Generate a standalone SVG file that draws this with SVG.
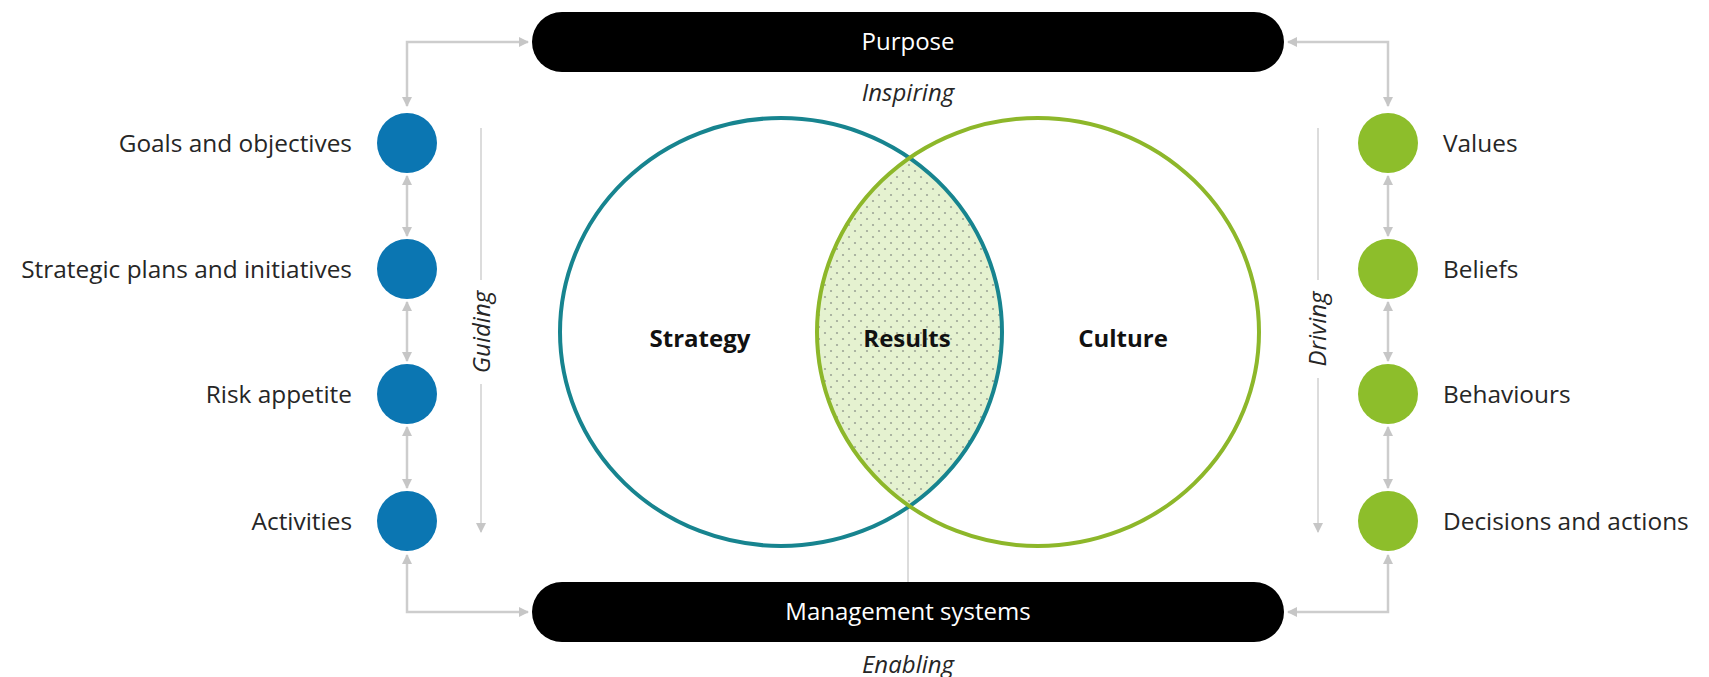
<svg xmlns="http://www.w3.org/2000/svg" width="1709" height="677" viewBox="0 0 1709 677">
<defs>
<style>
.lbl{font-family:"Open Sans","Liberation Sans",sans-serif;font-size:24.4px;fill:#262626}
.bar{fill:#000}
.bartxt{font-family:"Open Sans","Liberation Sans",sans-serif;font-size:24px;fill:#fff;text-anchor:middle}
.ital{font-family:"Open Sans","Liberation Sans",sans-serif;font-size:24px;font-style:italic;fill:#262626;text-anchor:middle}
.bold{font-family:"Open Sans","Liberation Sans",sans-serif;font-size:24px;font-weight:bold;fill:#111;text-anchor:middle}
.blue{fill:#0B76B2}
.green{fill:#8DBE2B}
.con{fill:none;stroke:#cdcdcd;stroke-width:2.5}
.thin{fill:none;stroke:#d0d0d0;stroke-width:1.5}
</style>
<marker id="ah" viewBox="0 0 10 10" refX="9" refY="5" markerWidth="10" markerHeight="10" markerUnits="userSpaceOnUse" orient="auto-start-reverse">
<path d="M0,0 L10,5 L0,10 z" fill="#c6c6c6"/>
</marker>
<pattern id="dots" width="12" height="12" patternUnits="userSpaceOnUse">
<rect width="12" height="12" fill="#e5f2d0"/>
<circle cx="3" cy="3" r="1.1" fill="#9ea697"/>
<circle cx="9" cy="9" r="1.1" fill="#9ea697"/>
</pattern>
<clipPath id="leftclip"><ellipse cx="781" cy="332" rx="221" ry="214"/></clipPath>
</defs>
<rect width="1709" height="677" fill="#fff"/>

<g id="connectors">
<path class="con" d="M407,106 V42 H528" marker-start="url(#ah)" marker-end="url(#ah)"/>
<path class="con" d="M407,176 V236" marker-start="url(#ah)" marker-end="url(#ah)"/>
<path class="con" d="M407,302 V361" marker-start="url(#ah)" marker-end="url(#ah)"/>
<path class="con" d="M407,427 V488" marker-start="url(#ah)" marker-end="url(#ah)"/>
<path class="con" d="M407,555 V612 H528" marker-start="url(#ah)" marker-end="url(#ah)"/>
<path class="con" d="M1388,106 V42 H1288" marker-start="url(#ah)" marker-end="url(#ah)"/>
<path class="con" d="M1388,176 V236" marker-start="url(#ah)" marker-end="url(#ah)"/>
<path class="con" d="M1388,302 V361" marker-start="url(#ah)" marker-end="url(#ah)"/>
<path class="con" d="M1388,427 V488" marker-start="url(#ah)" marker-end="url(#ah)"/>
<path class="con" d="M1388,555 V612 H1288" marker-start="url(#ah)" marker-end="url(#ah)"/>
<path class="thin" d="M481,128 V280"/>
<path class="thin" d="M481,384 V532" marker-end="url(#ah)"/>
<path class="thin" d="M1318,128 V280"/>
<path class="thin" d="M1318,378 V532" marker-end="url(#ah)"/>
<path class="thin" d="M908,507 V582"/>
</g>

<g id="purpose">
<rect class="bar" x="532" y="12" width="752" height="60" rx="30"/>
<text class="bartxt" x="908" y="50">Purpose</text>
<text class="ital" x="908" y="101">Inspiring</text>
</g>

<g id="management">
<rect class="bar" x="532" y="582" width="752" height="60" rx="30"/>
<text class="bartxt" x="908" y="620">Management systems</text>
<text class="ital" x="908" y="673">Enabling</text>
</g>

<g id="venn">
<ellipse cx="1038" cy="332" rx="221" ry="214" fill="url(#dots)" clip-path="url(#leftclip)"/>
<ellipse id="strategy" cx="781" cy="332" rx="221" ry="214" fill="none" stroke="#17848F" stroke-width="4"/>
<ellipse id="culture" cx="1038" cy="332" rx="221" ry="214" fill="none" stroke="#8DB72A" stroke-width="4"/>
<text class="bold" x="700" y="347">Strategy</text>
<text class="bold" x="907" y="347">Results</text>
<text class="bold" x="1123" y="347">Culture</text>
</g>

<g id="guiding"><text class="ital" transform="translate(490,332) rotate(-90)">Guiding</text></g>
<g id="driving"><text class="ital" transform="translate(1326,329) rotate(-90)">Driving</text></g>

<g id="goals"><circle class="blue" cx="407" cy="143" r="30"/><text class="lbl" x="352" y="152" text-anchor="end">Goals and objectives</text></g>
<g id="plans"><circle class="blue" cx="407" cy="269" r="30"/><text class="lbl" x="352" y="278" text-anchor="end">Strategic plans and initiatives</text></g>
<g id="risk"><circle class="blue" cx="407" cy="394" r="30"/><text class="lbl" x="352" y="403" text-anchor="end">Risk appetite</text></g>
<g id="activities"><circle class="blue" cx="407" cy="521" r="30"/><text class="lbl" x="352" y="530" text-anchor="end">Activities</text></g>

<g id="values"><circle class="green" cx="1388" cy="143" r="30"/><text class="lbl" x="1443" y="152">Values</text></g>
<g id="beliefs"><circle class="green" cx="1388" cy="269" r="30"/><text class="lbl" x="1443" y="278">Beliefs</text></g>
<g id="behaviours"><circle class="green" cx="1388" cy="394" r="30"/><text class="lbl" x="1443" y="403">Behaviours</text></g>
<g id="decisions"><circle class="green" cx="1388" cy="521" r="30"/><text class="lbl" x="1443" y="530">Decisions and actions</text></g>
</svg>
